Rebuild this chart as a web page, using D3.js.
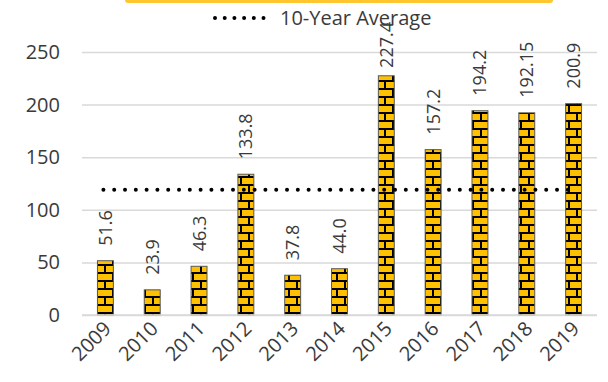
<!DOCTYPE html>
<html>
<head>
<meta charset="utf-8">
<script src="https://cdn.jsdelivr.net/npm/d3@7"></script>
<style>
  body { margin: 0; background: #fff; }
  svg { display: block; font-family: "Open Sans", sans-serif; }
</style>
</head>
<body>
<svg width="608" height="382"></svg>
<script>
// data
var years = ["2009", "2010", "2011", "2012", "2013", "2014", "2015", "2016", "2017", "2018", "2019"];
var values = [51.6, 23.9, 46.3, 133.8, 37.8, 44.0, 227.4, 157.2, 194.2, 192.15, 200.9];
var valueLabels = ["51.6", "23.9", "46.3", "133.8", "37.8", "44.0", "227.4", "157.2", "194.2", "192.15", "200.9"];
var yTicks = [0, 50, 100, 150, 200, 250];
var average = d3.mean(values);
var legendLabel = "10-Year Average";

var svg = d3.select("svg");
var textColor = "#3a3a3a";

var x = d3.scaleBand()
  .domain(years)
  .range([82, 597])
  .paddingInner(0.66)
  .paddingOuter(0.33);

var y = d3.scaleLinear()
  .domain([0, 250])
  .range([315, 52]);

// brick pattern
var defs = svg.append("defs");
var pat = defs.append("pattern")
  .attr("id", "brick")
  .attr("patternUnits", "userSpaceOnUse")
  .attr("width", 16)
  .attr("height", 16);
pat.append("rect").attr("width", 16).attr("height", 16).attr("fill", "#ffc000");
pat.append("g").attr("fill", "#000")
  .call(g => {
    g.append("rect").attr("x", 0).attr("y", 0).attr("width", 16).attr("height", 2);
    g.append("rect").attr("x", 0).attr("y", 8).attr("width", 16).attr("height", 2);
    g.append("rect").attr("x", 0).attr("y", 2).attr("width", 2).attr("height", 6);
    g.append("rect").attr("x", 8).attr("y", 10).attr("width", 2).attr("height", 6);
  });

// yellow strip at top
svg.append("rect")
  .attr("x", 125).attr("y", -10)
  .attr("width", 428).attr("height", 13)
  .attr("rx", 3)
  .attr("fill", "#ffc62f");

// gridlines
var yAxis = svg.append("g")
  .attr("transform", "translate(82,0)")
  .call(d3.axisLeft(y).tickValues(yTicks).tickSize(-515).tickPadding(22));
yAxis.select(".domain").remove();
yAxis.selectAll(".tick line").attr("stroke", "#d9d9d9").attr("stroke-width", 1.5);
yAxis.selectAll(".tick text")
  .attr("fill", textColor)
  .attr("font-size", 20)
  .attr("font-family", "'Open Sans', sans-serif");

// bars
svg.append("g")
  .selectAll("rect")
  .data(values)
  .enter()
  .append("rect")
  .attr("x", (d, i) => x(years[i]))
  .attr("y", d => y(d))
  .attr("width", x.bandwidth())
  .attr("height", d => y(0) - y(d))
  .attr("fill", "url(#brick)")
  .attr("stroke", "#595959")
  .attr("stroke-width", 1);

// value labels, rotated; kept inside the top of the chart
var labels = svg.append("g")
  .selectAll("text")
  .data(values)
  .enter()
  .append("text")
  .attr("text-anchor", "start")
  .attr("font-size", 18)
  .attr("fill", textColor)
  .text((d, i) => valueLabels[i]);

labels.attr("transform", function(d, i) {
  var cx = x(years[i]) + x.bandwidth() / 2 + 6.5;
  var by = y(d) - 15;
  var len = this.getComputedTextLength();
  if (by - len < 22) by = 22 + len;
  return "translate(" + cx + "," + by + ") rotate(-90)";
});

// 10-year average
svg.append("line")
  .attr("x1", x(years[0]) + x.bandwidth() / 2 - 2)
  .attr("x2", x(years[years.length - 1]) + x.bandwidth() / 2)
  .attr("y1", y(average))
  .attr("y2", y(average))
  .attr("stroke", "#000")
  .attr("stroke-width", 4)
  .attr("stroke-linecap", "round")
  .attr("stroke-dasharray", "0,10.8");

// x axis
svg.append("line")
  .attr("x1", 82).attr("x2", 597)
  .attr("y1", y(0)).attr("y2", y(0))
  .attr("stroke", "#d9d9d9").attr("stroke-width", 1.5);

svg.append("g")
  .selectAll("text")
  .data(years)
  .enter()
  .append("text")
  .attr("transform", d => "translate(" + (x(d) + x.bandwidth() / 2 + 7) + ",330) rotate(-45)")
  .attr("text-anchor", "end")
  .attr("font-size", 20)
  .attr("fill", textColor)
  .text(d => d);

// legend
svg.append("line")
  .attr("x1", 215).attr("x2", 264)
  .attr("y1", 18).attr("y2", 18)
  .attr("stroke", "#000")
  .attr("stroke-width", 4)
  .attr("stroke-linecap", "round")
  .attr("stroke-dasharray", "0,9.7");

svg.append("text")
  .attr("x", 280).attr("y", 25)
  .attr("font-size", 20)
  .attr("fill", textColor)
  .text(legendLabel);
</script>
</body>
</html>
